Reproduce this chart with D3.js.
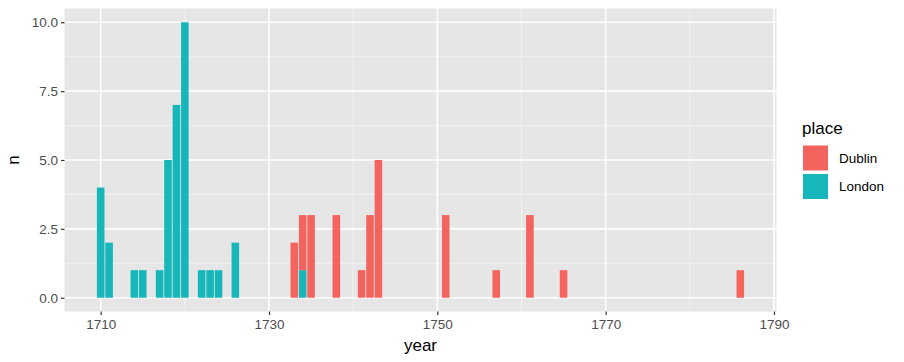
<!DOCTYPE html>
<html>
<head>
<meta charset="utf-8">
<script src="https://cdn.jsdelivr.net/npm/d3@7"></script>
<style>
  html, body { margin: 0; padding: 0; background: #fff; }
  svg { display: block; font-family: "Liberation Sans", Arial, sans-serif; }
</style>
</head>
<body>
<svg id="chart" width="904" height="362"></svg>
<script>
// ---- data ----
const places = ["Dublin", "London"];
const londonYears  = [1710, 1711, 1714, 1715, 1717, 1718, 1719, 1720, 1722, 1723, 1724, 1726, 1734];
const londonCounts = [4, 2, 1, 1, 1, 5, 7, 10, 1, 1, 1, 2, 1];
const dublinYears  = [1733, 1734, 1735, 1738, 1741, 1742, 1743, 1751, 1757, 1761, 1765, 1786];
const dublinCounts = [2, 2, 3, 3, 1, 3, 5, 3, 1, 3, 1, 1];
const xTicks = [1710, 1730, 1750, 1770, 1790];
const xMinor = [1720, 1740, 1760, 1780];
const yTicks = [0, 2.5, 5, 7.5, 10];
const yMinor = [1.25, 3.75, 6.25, 8.75];
const colors = ["#F3645E", "#16B6BA"];

// ---- layout ----
const panel = { left: 64.5, right: 776.5, top: 8.5, bottom: 311.5 };
const svg = d3.select("#chart");

const x = d3.scaleLinear().domain([1705.7, 1790.3]).range([panel.left, panel.right]);
const y = d3.scaleLinear().domain([-0.5, 10.5]).range([panel.bottom, panel.top]);
const color = d3.scaleOrdinal().domain(places).range(colors);

// build stacked rows: London at bottom, Dublin on top
const rows = [];
londonYears.forEach((yr, i) => rows.push({ year: yr, place: "London", y0: 0, y1: londonCounts[i] }));
dublinYears.forEach((yr, i) => {
  const li = londonYears.indexOf(yr);
  const base = li >= 0 ? londonCounts[li] : 0;
  rows.push({ year: yr, place: "Dublin", y0: base, y1: base + dublinCounts[i] });
});

// panel background
svg.append("rect")
  .attr("x", panel.left).attr("y", panel.top)
  .attr("width", panel.right - panel.left).attr("height", panel.bottom - panel.top)
  .attr("fill", "#E6E6E6");

const grid = svg.append("g");
grid.selectAll(".xminor").data(xMinor).join("line")
  .attr("x1", d => x(d)).attr("x2", d => x(d))
  .attr("y1", panel.top).attr("y2", panel.bottom)
  .attr("stroke", "#F4F4F4").attr("stroke-width", 0.8);
grid.selectAll(".yminor").data(yMinor).join("line")
  .attr("y1", d => y(d)).attr("y2", d => y(d))
  .attr("x1", panel.left).attr("x2", panel.right)
  .attr("stroke", "#F4F4F4").attr("stroke-width", 0.8);
grid.selectAll(".xmajor").data(xTicks).join("line")
  .attr("x1", d => x(d)).attr("x2", d => x(d))
  .attr("y1", panel.top).attr("y2", panel.bottom)
  .attr("stroke", "#FFFFFF").attr("stroke-width", 1.6);
grid.selectAll(".ymajor").data(yTicks).join("line")
  .attr("y1", d => y(d)).attr("y2", d => y(d))
  .attr("x1", panel.left).attr("x2", panel.right)
  .attr("stroke", "#FFFFFF").attr("stroke-width", 1.6);

// bars
const bw = x(1700.9) - x(1700);
svg.append("g").selectAll("rect").data(rows).join("rect")
  .attr("x", d => x(d.year) - bw / 2)
  .attr("width", bw)
  .attr("y", d => y(d.y1))
  .attr("height", d => y(d.y0) - y(d.y1))
  .attr("fill", d => color(d.place));

// axes
const xAxis = d3.axisBottom(x).tickValues(xTicks).tickFormat(d3.format("d")).tickSize(3.5).tickPadding(4);
const gx = svg.append("g").attr("transform", `translate(0,${panel.bottom})`).call(xAxis);
const yAxis = d3.axisLeft(y).tickValues(yTicks).tickFormat(d3.format(".1f")).tickSize(3.5).tickPadding(3);
const gy = svg.append("g").attr("transform", `translate(${panel.left},0)`).call(yAxis);
[gx, gy].forEach(g => {
  g.select(".domain").remove();
  g.selectAll(".tick line").attr("stroke", "#333333").attr("stroke-width", 1.2);
  g.selectAll(".tick text").attr("fill", "#4D4D4D").attr("font-size", "13.5px")
    .attr("font-family", "'Liberation Sans', Arial, sans-serif");
});

// axis titles
svg.append("text").attr("x", x(1748)).attr("y", 351)
  .attr("text-anchor", "middle").attr("font-size", "17px").attr("fill", "#000").text("year");
svg.append("text").attr("transform", `translate(19,${(panel.top + panel.bottom) / 2}) rotate(-90)`)
  .attr("text-anchor", "middle").attr("font-size", "17px").attr("fill", "#000").text("n");

// legend
const lg = svg.append("g").attr("transform", "translate(802,0)");
lg.append("text").attr("x", 0).attr("y", 134).attr("font-size", "17px").attr("fill", "#000").text("place");
const items = lg.selectAll(".item").data(places).join("g")
  .attr("transform", (d, i) => `translate(0,${145 + i * 28.5})`);
items.append("rect").attr("x", 1).attr("y", 0.5).attr("width", 25).attr("height", 25)
  .attr("fill", d => color(d));
items.append("text").attr("x", 37).attr("y", 13).attr("dy", "0.35em")
  .attr("font-size", "13.5px").attr("fill", "#000").text(d => d);
</script>
</body>
</html>
